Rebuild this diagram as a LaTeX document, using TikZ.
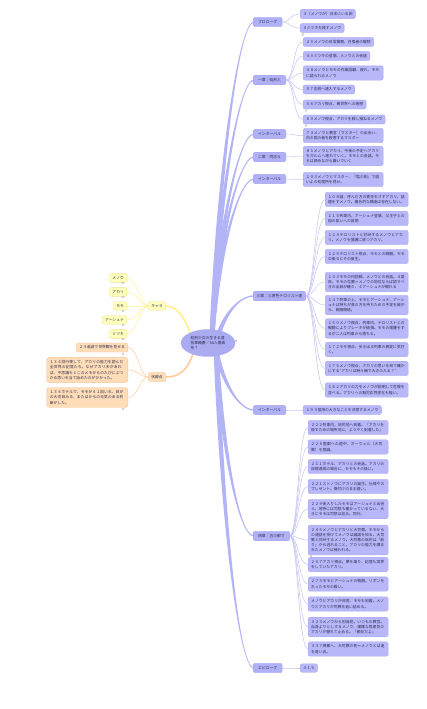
\documentclass[tikz,border=0pt]{standalone}
\usepackage{fontspec}
\setmainfont{Noto Sans CJK JP}
\XeTeXlinebreaklocale "ja"
\XeTeXlinebreakskip=0pt plus 0.5pt
\usetikzlibrary{shapes.geometric}
\definecolor{bfill}{HTML}{B7B7FA}
\definecolor{bmainfill}{HTML}{B0B0F6}
\definecolor{bdraw}{HTML}{A6A6EE}
\definecolor{bline}{HTML}{C4C4F6}
\definecolor{tline}{HTML}{B3B4F5}
\definecolor{efill}{HTML}{ABABF2}
\definecolor{txt}{HTML}{2E2E50}
\definecolor{yfill}{HTML}{FFFFBC}
\definecolor{ydraw}{HTML}{EDE28E}
\definecolor{yline}{HTML}{FFF08C}
\definecolor{ofill}{HTML}{FFDDB8}
\definecolor{odraw}{HTML}{F4C392}
\definecolor{oline}{HTML}{FFCC9C}
\newcommand{\mmbranch}[5]{%
  \fill[tline] ({#1-2.4},{#2}) .. controls ({#1+3.6},{(#2+#3)/2}) and ({#4-16},{#3-0.7*#5}) .. ({#4},{#3-0.7*#5})
   -- ({#4},{#3+0.7*#5}) .. controls ({#4-16},{#3+0.7*#5}) and ({#1+8.4},{(#2+#3)/2}) .. ({#1+2.4},{#2}) -- cycle;}
\newcommand{\lk}[2]{\draw[lline] (#1.east) .. controls +(8,0) and +(-10,0) .. (#2.west);}
\tikzset{
 base/.style={font=\fontsize{3.8pt}{5.2pt}\selectfont, text=txt, rounded corners=2pt, inner xsep=3pt, inner ysep=2.8pt, line width=0.3pt},
 bleaf/.style={base, fill=bfill, draw=bdraw, anchor=west},
 bleafw/.style={bleaf, text width=74pt, align=left},
 bleafx/.style={bleaf, text width=77pt, align=left},
 bmain/.style={base, fill=bmainfill, draw=bdraw, inner xsep=5pt, inner ysep=3pt, anchor=west},
 yleaf/.style={base, fill=yfill, draw=ydraw},
 oleaf/.style={base, fill=ofill, draw=odraw},
 lline/.style={draw=bline, line width=0.5pt},
 handle/.style={circle, draw=gray!55, fill=white, inner sep=0pt, minimum size=2.4pt, line width=0.3pt},
}
\begin{document}
\begin{tikzpicture}[x=1pt,y=-1pt]
\useasboundingbox (0,0) rectangle (426,709);
\fill[white] (0,0) rectangle (426,709);
% main branches
\mmbranch{212}{336}{22}{254}{1}
\mmbranch{212}{336}{80}{254}{1}
\mmbranch{212}{336}{134}{254}{1}
\mmbranch{212}{336}{157}{254}{1}
\mmbranch{212}{336}{179}{254}{1}
\mmbranch{218}{336}{296}{254}{1}
\mmbranch{216}{350}{410}{254}{-1}
\mmbranch{216}{350}{536}{254}{-1}
\mmbranch{216}{350}{668}{254}{-1}
% left branches
\draw[yline, line width=1.6pt] (192,338) .. controls (184,314) and (176,306) .. (165,306);
\draw[oline, line width=1.6pt] (194,350) .. controls (188,372) and (178,377) .. (166,377);
% main nodes
\node[bmain] (pro) at (253,22) {プロローグ};
\node[bmain] (ch1) at (253,80) {一章：処刑人};
\node[bmain] (int1) at (253,134) {インターバル};
\node[bmain] (ch2) at (253,157) {二章：同志ら};
\node[bmain] (int2) at (253,179) {インターバル};
\node[bmain, inner xsep=3.5pt] (ch3) at (253,296) {三章：三原色テロリスト達};
\node[bmain] (int3) at (253,410) {インターバル};
\node[bmain] (ch4) at (253,536) {四章：古の都で};
\node[bmain] (epi) at (253,668) {エピローグ};
% leaves
\node[bleaf] (p1) at (300,14) {３（メノウが）日本にいる訳};
\node[bleaf] (p2) at (300,28) {４ミツキを殺すメノウ};
\node[bleaf] (a1) at (303,42) {２３メノウの日常業務、召喚者の駆除};
\node[bleaf] (a2) at (303,56) {４３ミツキの登場、メノウとの会話};
\node[bleafw] (a3) at (303,73) {４８メノウとモモの作業回顧、疲れ、モモに語られるメノウ};
\node[bleaf] (a4) at (303,89.5) {５７正統へ連入するメノウ};
\node[bleaf] (a5) at (303,104.5) {５８アカリ視点、異世界への感想};
\node[bleaf] (a6) at (303,119.5) {６３メノウ視点、アカリを殺し損ねるメノウ};
\node[bleafw] (i1) at (303,135.5) {７３メノウと教官［マスター］の出会い、白の国の者を殺害するマスター};
\node[bleafw] (b1) at (303,156) {８１メノウとアカリ、今後の予定へアカリをガルムへ連れていく。モモとの会話。モモは諦めながら嫌いでいく};
\node[bleafw] (i2) at (303,179.5) {１０３メノウとマスター、『塩の剣』で遊いよの処理所を見せ。};
\node[bleafx] (c1) at (325,199.5) {１０８話、呼んだ方の責任をオすアカリ、話題をすメノウ。複合的な構造は存在しない。};
\node[bleafx] (c2) at (325,218.5) {１１５列車内、アーシュナ登場、父王子との因の臣いへの設想};
\node[bleafx] (c3) at (325,237.5) {１１９テロリストと対峙するメノウとアカリ。メノウを援護に放つアカリ。};
\node[bleafx] (c4) at (325,256.5) {１２９テロリスト視点、モモとの戦闘。モモの後ろにその後生。};
\node[bleafx] (c5) at (325,282) {１３３モモの何回戦、メノウとの会話。４度目、モモの位置＝メノウの地位ならば認すべきの出目が確々、４アーシュナが聞れる};
\node[bleafx] (c6) at (325,305) {１４７列車の上、モモとアーシュナ、アーシュナは特ちが真の方を持ちための予定を破がら、戦闘間結。};
\node[bleafx] (c7) at (325,328.5) {１５０メノウ視点、列車内、テロリストとの戦闘によりブレーキが破損。モモの援護をするが二人は列車から落ちる。};
\node[bleafx] (c8) at (325,349.5) {１７２モモ視点、歩き出る列車の異変に気付く。};
\node[bleafx] (c9) at (325,368.5) {１７５メノウ視点、アカリの思いを目で確かにする“アカリは時々補で大きの入る？”};
\node[bleafx] (c10) at (325,390) {１８２アカリの力をメノウが説明して危険を並べる。アカリへの無対応性変化も強い。};
\node[bleaf] (i3) at (303,410) {１９３信用の大きなことを決意するメノウ};
\node[bleafw] (d1) at (308,427.5) {２２２列車内、目的地へ到着。『アカリを殺すための場所地に、ようやく到着した』};
\node[bleafw] (d2) at (308,447) {２２６聖都への道中、オーウェル（大司教）を意識。};
\node[bleafw] (d3) at (308,466.5) {２１１ホテル、アカリとの会話。アカリの目標達成の場合に、モモもその後に。};
\node[bleafw] (d4) at (308,486.5) {２２１ストノウにアカリの誕生。仕様やのプレゼント。傷付けのまま遅い。};
\node[bleafw] (d5) at (308,509) {２２９街入りしたモモはアーシュナと出会う。地特には司祭も働かっているない、大きにモモは司祭は巡る。同行。};
\node[bleafw] (d6) at (308,540) {２４５メノウとアカリと大司教。モモからの通話を受けてメノウは議論を知る。大司教と対峙するメノウ。大司教の目的は「若り」から逃れること。アカリの能力を讃まれたメノウは捕われる。};
\node[bleafw] (d7) at (308,564.5) {２６７アカリ視点。夢を乗り、記憶も実界をしていたアカリ。};
\node[bleafw] (d8) at (308,584) {２７３モモとアーシュナの戦闘。リボンをれったモモの戦い。};
\node[bleafw] (d9) at (308,604) {メノウとアカリが目覚、モモも到着。メノウとアカリが司教を追い詰める。};
\node[bleafw] (d10) at (308,627) {３２３メノウから別発見。いつもの教官。自身よりとしするメノウ、複雑な思慮気のアカリが握れて止める。「親友だよ」};
\node[bleafw] (d11) at (308,649) {３３７現都へ、大司教の死＝メノウとは遠を遠い去。};
\node[bleaf] (e1) at (300,668) {３１５};
% leaf links
\lk{pro}{p1}\lk{pro}{p2}
\foreach \n in {a1,a2,a3,a4,a5,a6}{\lk{ch1}{\n}}
\lk{int1}{i1}\lk{ch2}{b1}\lk{int2}{i2}
\foreach \n in {c1,c2,c3,c4,c5,c6,c7,c8,c9,c10}{\lk{ch3}{\n}}
\lk{int3}{i3}
\foreach \n in {d1,d2,d3,d4,d5,d6,d7,d8,d9,d10,d11}{\lk{ch4}{\n}}
\lk{epi}{e1}
% left side
\node[yleaf] (chara) at (157,306) {キャラ};
\node[yleaf, anchor=east] (k1) at (127,278) {メノウ};
\node[yleaf, anchor=east] (k2) at (127,292) {アカリ};
\node[yleaf, anchor=east] (k3) at (127,306) {モモ};
\node[yleaf, anchor=east] (k4) at (127,320) {アーシュナ};
\node[yleaf, anchor=east] (k5) at (127,334) {ミツキ};
\foreach \n in {k1,k2,k3,k4,k5}{\draw[yline, line width=0.5pt] (chara.west) .. controls +(-8,0) and +(10,0) .. (\n.east);}
\node[oleaf] (fuku) at (157,377) {伏線点};
\node[oleaf, anchor=east] (o1) at (128,347.5) {２３追話で世界観を見せる};
\node[oleaf, anchor=east, text width=75pt, align=left] (o2) at (128,370) {１３４回行使して、アカリの能力を読んだ全世界の記憶たち。なぜアカリ夫があれば、不思議も１このメモからのたびにぶつかる思いを当て始めたのがひかった。};
\node[oleaf, anchor=east, text width=75pt, align=left] (o3) at (128,397.5) {１３４ホテルで、モモが４１回いれ、目がの大切目みる、またはからの元気のある判断がした。};
\foreach \n in {o1,o2,o3}{\draw[oline, line width=0.5pt] (fuku.west) .. controls +(-8,0) and +(10,0) .. (\n.east);}
% root
\node[ellipse, fill=efill, draw=bdraw, line width=0.3pt, minimum width=54pt, minimum height=27pt, inner sep=0pt, align=left, text=txt, font=\fontsize{3.8pt}{5.2pt}\selectfont] (root) at (208,343) {処刑少女の生きる道\\各章概要／SA人要素\\形？};
% handles
\node[handle] at (236,341) {};
\node[handle] at (303,34.5) {};
\node[handle] at (306,110.5) {};
\node[handle] at (306,125.5) {};
\node[handle] at (311,556) {};
\foreach \y in {283,297,311,325,339}{\node[handle] at (123,\y) {};}
\node[handle] at (123,354) {};
\node[handle] at (123,409) {};
\end{tikzpicture}
\end{document}
